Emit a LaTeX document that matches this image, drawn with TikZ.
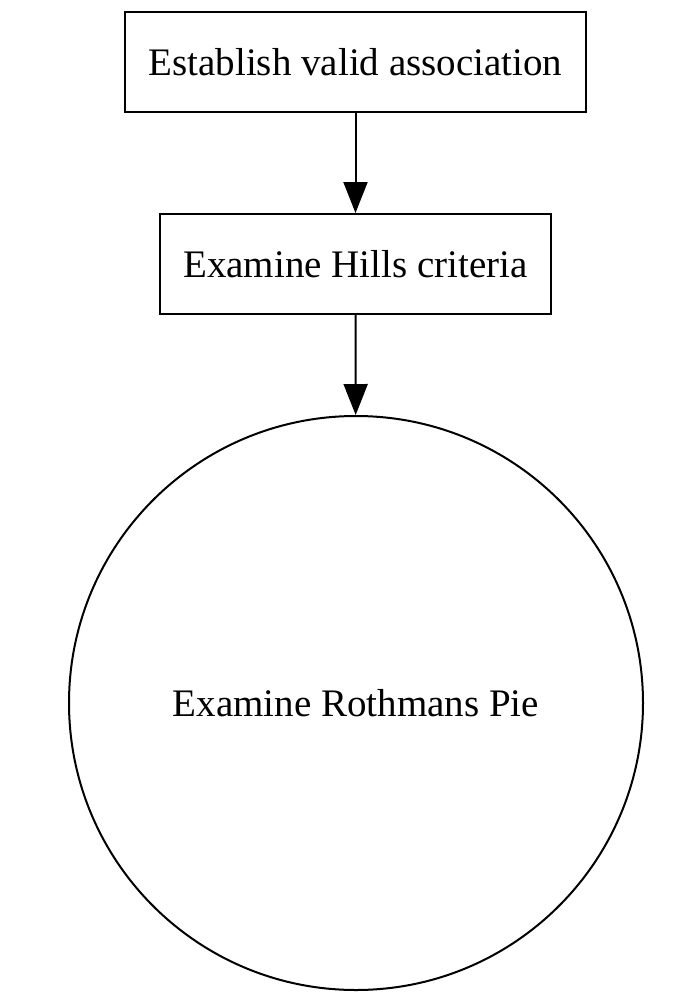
\documentclass[tikz,border=0pt]{standalone}
\usepackage{fontspec}
\setmainfont{Liberation Serif}
\usetikzlibrary{arrows.meta}
\begin{document}
\begin{tikzpicture}[x=1pt,y=-1pt,
  boxnode/.style={draw,line width=2pt,inner sep=0pt,font=\fontsize{39}{46}\selectfont},
  circnode/.style={draw,line width=2pt,circle,inner sep=0pt,font=\fontsize{39}{46}\selectfont},
  conn/.style={line width=2pt,-{Triangle[length=31pt,width=24pt]}}]
\useasboundingbox (0,0) rectangle (696,1002);
\node[boxnode,minimum width=461pt,minimum height=100pt] (a) at (355.5,62) {Establish valid association};
\node[boxnode,minimum width=391pt,minimum height=100pt] (b) at (355.5,264) {Examine Hills criteria};
\node[circnode,minimum size=574pt] (c) at (356,703) {Examine Rothmans Pie};
\draw[conn] (a) -- (b);
\draw[conn] (b) -- (c);
\end{tikzpicture}
\end{document}
